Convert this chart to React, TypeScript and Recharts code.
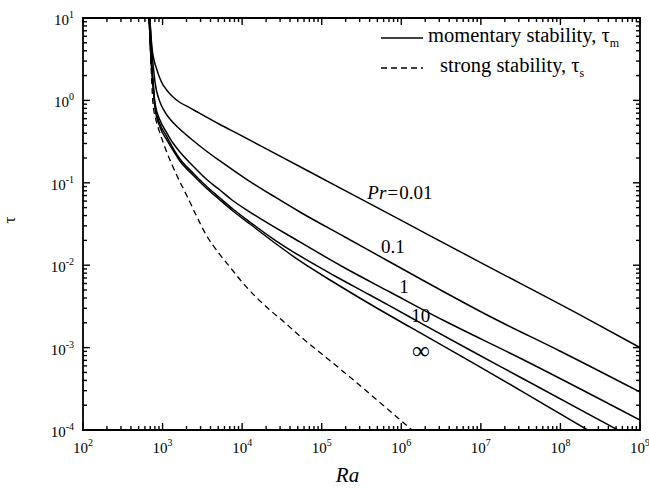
import React from 'react';
import { LineChart, Line, XAxis, YAxis, ReferenceArea, ReferenceDot } from 'recharts';

// momentary stability curves, one per Prandtl number
const pr001 = [
  { ra: 672, tau: 10 },
  { ra: 684.5, tau: 9.46 },
  { ra: 736, tau: 4.33 },
  { ra: 850, tau: 2.34 },
  { ra: 969, tau: 1.672 },
  { ra: 1126, tau: 1.337 },
  { ra: 1312, tau: 1.131 },
  { ra: 1654, tau: 0.943 },
  { ra: 2209, tau: 0.813 },
  { ra: 2704, tau: 0.728 },
  { ra: 5260, tau: 0.51 },
  { ra: 9380, tau: 0.382 },
  { ra: 24400, tau: 0.234 },
  { ra: 1.69e5, tau: 0.0869 },
  { ra: 9.6e5, tau: 0.0357 },
  { ra: 9.7e6, tau: 0.0109 },
  { ra: 2.15e8, tau: 2.25e-3 },
  { ra: 1e9, tau: 1.0e-3 },
];

const pr01 = [
  { ra: 675, tau: 10 },
  { ra: 695, tau: 8.94 },
  { ra: 729, tau: 4.33 },
  { ra: 803, tau: 1.672 },
  { ra: 927, tau: 0.956 },
  { ra: 1072, tau: 0.723 },
  { ra: 1238, tau: 0.595 },
  { ra: 1517, tau: 0.482 },
  { ra: 1804, tau: 0.4136 },
  { ra: 2210, tau: 0.35 },
  { ra: 3410, tau: 0.25 },
  { ra: 5260, tau: 0.184 },
  { ra: 11490, tau: 0.1096 },
  { ra: 25800, tau: 0.0673 },
  { ra: 53200, tau: 0.0442 },
  { ra: 1.956e5, tau: 0.022 },
  { ra: 7.19e5, tau: 0.01094 },
  { ra: 1.59e7, tau: 2.16e-3 },
  { ra: 9.82e7, tau: 9.1e-4 },
  { ra: 1e9, tau: 2.89e-4 },
];

const pr1 = [
  { ra: 675, tau: 10 },
  { ra: 684.5, tau: 8.22 },
  { ra: 714, tau: 3.56 },
  { ra: 757, tau: 1.77 },
  { ra: 803, tau: 0.93 },
  { ra: 927, tau: 0.578 },
  { ra: 1135, tau: 0.402 },
  { ra: 1351, tau: 0.304 },
  { ra: 1654, tau: 0.2366 },
  { ra: 2410, tau: 0.16 },
  { ra: 3530, tau: 0.111 },
  { ra: 5260, tau: 0.0818 },
  { ra: 7450, tau: 0.0618 },
  { ra: 12530, tau: 0.0442 },
  { ra: 53200, tau: 0.01914 },
  { ra: 1.956e5, tau: 9.25e-3 },
  { ra: 7.19e5, tau: 4.73e-3 },
  { ra: 3.33e6, tau: 2.16e-3 },
  { ra: 3.09e7, tau: 7.48e-4 },
  { ra: 1e9, tau: 1.32e-4 },
];

const pr10 = [
  { ra: 675, tau: 10 },
  { ra: 684.5, tau: 8.22 },
  { ra: 714, tau: 3.56 },
  { ra: 757, tau: 1.672 },
  { ra: 803, tau: 0.855 },
  { ra: 927, tau: 0.518 },
  { ra: 1135, tau: 0.36 },
  { ra: 1351, tau: 0.264 },
  { ra: 1654, tau: 0.1945 },
  { ra: 2410, tau: 0.1315 },
  { ra: 3530, tau: 0.0914 },
  { ra: 5260, tau: 0.0654 },
  { ra: 7663, tau: 0.0481 },
  { ra: 12530, tau: 0.0334 },
  { ra: 25800, tau: 0.0202 },
  { ra: 53200, tau: 0.01294 },
  { ra: 1.465e5, tau: 7.4e-3 },
  { ra: 4.03e5, tau: 4.35e-3 },
  { ra: 1.28e6, tau: 2.35e-3 },
  { ra: 7.28e6, tau: 9.35e-4 },
  { ra: 3.09e7, tau: 4.4e-4 },
  { ra: 5.26e8, tau: 1e-4 },
];

const prInf = [
  { ra: 675, tau: 10 },
  { ra: 684.5, tau: 8.22 },
  { ra: 714, tau: 3.27 },
  { ra: 757, tau: 1.54 },
  { ra: 803, tau: 0.809 },
  { ra: 927, tau: 0.475 },
  { ra: 1135, tau: 0.33 },
  { ra: 1351, tau: 0.25 },
  { ra: 1654, tau: 0.184 },
  { ra: 2410, tau: 0.1244 },
  { ra: 3530, tau: 0.0865 },
  { ra: 5260, tau: 0.0618 },
  { ra: 7663, tau: 0.0455 },
  { ra: 12530, tau: 0.0316 },
  { ra: 25800, tau: 0.0186 },
  { ra: 53200, tau: 0.01125 },
  { ra: 1.465e5, tau: 6.08e-3 },
  { ra: 4.03e5, tau: 3.38e-3 },
  { ra: 1.28e6, tau: 1.78e-3 },
  { ra: 7.28e6, tau: 6.87e-4 },
  { ra: 3.09e7, tau: 3.05e-4 },
  { ra: 2.2e8, tau: 1e-4 },
];

// strong stability (dashed)
const strong = [
  { ra: 672, tau: 10 },
  { ra: 681, tau: 8.22 },
  { ra: 705, tau: 4.1 },
  { ra: 729, tau: 1.77 },
  { ra: 757, tau: 0.93 },
  { ra: 826, tau: 0.578 },
  { ra: 927, tau: 0.402 },
  { ra: 1103, tau: 0.25 },
  { ra: 1352, tau: 0.1556 },
  { ra: 1654, tau: 0.1023 },
  { ra: 2026, tau: 0.0692 },
  { ra: 2704, tau: 0.0385 },
  { ra: 3530, tau: 0.0233 },
  { ra: 4966, tau: 0.01445 },
  { ra: 7030, tau: 9.5e-3 },
  { ra: 10230, tau: 6.08e-3 },
  { ra: 15350, tau: 4.0e-3 },
  { ra: 22330, tau: 2.86e-3 },
  { ra: 32600, tau: 2.1e-3 },
  { ra: 53200, tau: 1.38e-3 },
  { ra: 87100, tau: 9.35e-4 },
  { ra: 1.38e5, tau: 6.5e-4 },
  { ra: 2.26e5, tau: 4.4e-4 },
  { ra: 4.03e5, tau: 2.74e-4 },
  { ra: 7.19e5, tau: 1.7e-4 },
  { ra: 1.36e6, tau: 1e-4 },
];

const xExponents = [2, 3, 4, 5, 6, 7, 8, 9];
const yExponents = [-4, -3, -2, -1, 0, 1];
const minorSteps = [2, 3, 4, 5, 6, 7, 8, 9];

// curve annotations
const curveLabels = [
  { text: '0.01', italic: 'Pr=', ra: 9.6e5, tau: 0.0751, size: 19 },
  { text: '0.1', italic: '', ra: 7.83e5, tau: 0.01663, size: 19 },
  { text: '1', italic: '', ra: 1.08e6, tau: 5.43e-3, size: 19 },
  { text: '10', italic: '', ra: 1.76e6, tau: 2.42e-3, size: 19 },
  { text: '\u221e', italic: '', ra: 1.76e6, tau: 8.59e-4, size: 25 },
];

const legendItems = [
  { label: 'momentary stability, \u03c4', sub: 'm', dash: undefined, indent: 0 },
  { label: 'strong stability, \u03c4', sub: 's', dash: '6 4', indent: 12 },
];

const W = 649;
const H = 488;
const PLOT_TOP = 18;
const PLOT_RIGHT = 640;
const FONT = "'Liberation Serif', 'DejaVu Serif', serif";

const buildTicks = (exps: number[]) => {
  const out: number[] = [];
  exps.forEach((e, i) => {
    out.push(Math.pow(10, e));
    if (i < exps.length - 1) minorSteps.forEach((m) => out.push(m * Math.pow(10, e)));
  });
  return out;
};

const xTicks = buildTicks(xExponents);
const yTicks = buildTicks(yExponents);

const decadeOf = (v: number) => {
  const e = Math.round(Math.log10(v));
  return Math.abs(Math.log10(v) - e) < 1e-6 ? e : null;
};

function XTick(props: any) {
  const { x, y, payload } = props;
  const e = decadeOf(payload.value);
  const len = e !== null ? 7 : 4;
  return (
    <g>
      <line x1={x} x2={x} y1={y} y2={y - len} stroke="#000" strokeWidth={1.4} />
      <line x1={x} x2={x} y1={PLOT_TOP} y2={PLOT_TOP + len} stroke="#000" strokeWidth={1.4} />
      {e !== null && (
        <text x={x} y={y + 23} textAnchor="middle" fontSize={15} fontFamily={FONT} fill="#000">
          10<tspan dy={-7} fontSize={10}>{e}</tspan>
        </text>
      )}
    </g>
  );
}

function YTick(props: any) {
  const { x, y, payload } = props;
  const e = decadeOf(payload.value);
  const len = e !== null ? 7 : 4;
  return (
    <g>
      <line x1={x} x2={x + len} y1={y} y2={y} stroke="#000" strokeWidth={1.4} />
      <line x1={PLOT_RIGHT} x2={PLOT_RIGHT - len} y1={y} y2={y} stroke="#000" strokeWidth={1.4} />
      {e !== null && (
        <text x={x - 9} y={y + 7} textAnchor="end" fontSize={15} fontFamily={FONT} fill="#000">
          10<tspan dy={-7} fontSize={10}>{e}</tspan>
        </text>
      )}
    </g>
  );
}

const CurveLabel = (item: (typeof curveLabels)[number]) => (props: any) => (
  <text x={props.cx} y={props.cy + 6} textAnchor="middle" fontSize={item.size} fontFamily={FONT} fill="#000">
    {item.italic && <tspan fontStyle="italic">{item.italic}</tspan>}
    {item.text}
  </text>
);

export default function App() {
  return (
    <div style={{ position: 'absolute', left: 0, top: 0, width: W, height: H, background: '#fff' }}>
      <LineChart width={W} height={H} margin={{ top: PLOT_TOP, right: W - PLOT_RIGHT, bottom: 0, left: 0 }}>
        <XAxis
          dataKey="ra"
          type="number"
          scale="log"
          domain={[1e2, 1e9]}
          allowDataOverflow
          ticks={xTicks}
          interval={0}
          tick={<XTick />}
          tickSize={0}
          tickMargin={0}
          tickLine={false}
          axisLine={false}
          height={58}
          label={(p: any) => {
            const vb = p.viewBox;
            return (
              <text x={vb.x + vb.width / 2 - 14} y={vb.y + 52} textAnchor="middle" fontSize={21} fontStyle="italic" fontFamily={FONT} fill="#000">
                Ra
              </text>
            );
          }}
        />
        <YAxis
          dataKey="tau"
          type="number"
          scale="log"
          domain={[1e-4, 10]}
          allowDataOverflow
          ticks={yTicks}
          interval={0}
          tick={<YTick />}
          tickSize={0}
          tickMargin={0}
          tickLine={false}
          axisLine={false}
          width={83}
          label={(p: any) => {
            const vb = p.viewBox;
            const cy = vb.y + vb.height / 2 - 4;
            return (
              <text x={15} y={cy} textAnchor="middle" fontSize={17} fontFamily={FONT} fill="#000" transform={`rotate(-90 15 ${cy})`}>
                {'\u03c4'}
              </text>
            );
          }}
        />
        <ReferenceArea x1={1e2} x2={1e9} y1={1e-4} y2={10} fill="none" stroke="#000" strokeWidth={1.8} ifOverflow="visible" />
        <Line data={pr001} dataKey="tau" name="Pr=0.01" type="monotone" stroke="#000" strokeWidth={1.5} dot={false} isAnimationActive={false} />
        <Line data={pr01} dataKey="tau" name="Pr=0.1" type="monotone" stroke="#000" strokeWidth={1.5} dot={false} isAnimationActive={false} />
        <Line data={pr1} dataKey="tau" name="Pr=1" type="monotone" stroke="#000" strokeWidth={1.5} dot={false} isAnimationActive={false} />
        <Line data={pr10} dataKey="tau" name="Pr=10" type="monotone" stroke="#000" strokeWidth={1.5} dot={false} isAnimationActive={false} />
        <Line data={prInf} dataKey="tau" name="Pr=inf" type="monotone" stroke="#000" strokeWidth={1.5} dot={false} isAnimationActive={false} />
        <Line data={strong} dataKey="tau" name="strong" type="monotone" stroke="#000" strokeWidth={1.3} strokeDasharray="6 4" dot={false} isAnimationActive={false} />
        {curveLabels.map((c) => (
          <ReferenceDot key={c.text} x={c.ra} y={c.tau} r={0} shape={CurveLabel(c)} />
        ))}
      </LineChart>
      <div style={{ position: 'absolute', left: 380, top: 23, fontFamily: FONT, fontSize: 20.5, color: '#000' }}>
        {legendItems.map((it) => (
          <div key={it.sub} style={{ display: 'flex', alignItems: 'center', height: 30 }}>
            <svg width={44} height={10} style={{ marginRight: 4 + it.indent }}>
              <line x1={1} x2={43} y1={5} y2={5} stroke="#000" strokeWidth={1.4} strokeDasharray={it.dash} />
            </svg>
            <span>
              {it.label}
              <sub style={{ fontSize: 12 }}>{it.sub}</sub>
            </span>
          </div>
        ))}
      </div>
    </div>
  );
}
